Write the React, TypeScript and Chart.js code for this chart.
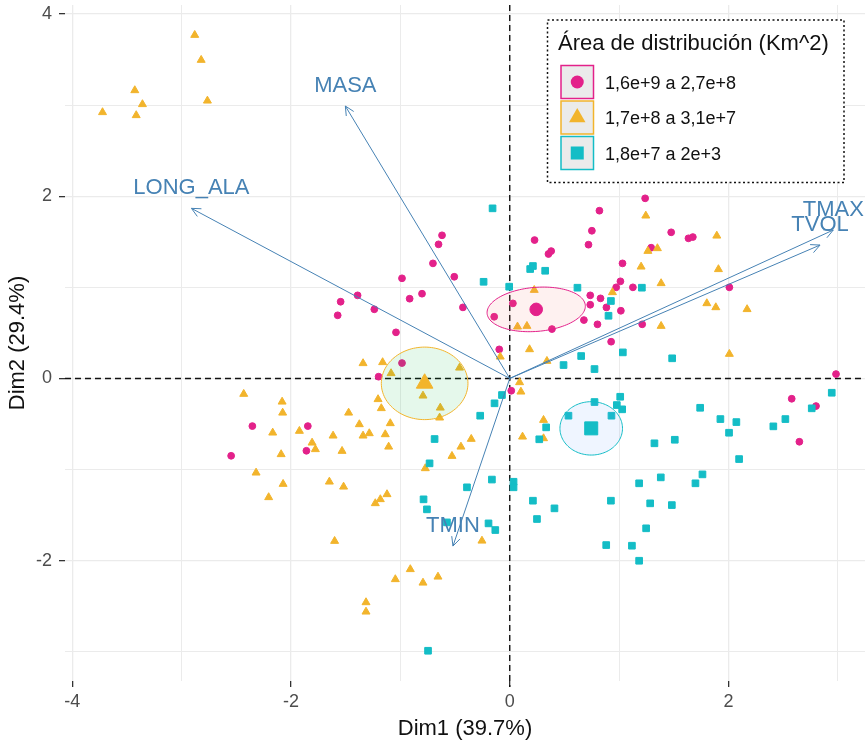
import React, { useEffect, useRef } from "react";
import { Chart, registerables } from "chart.js";

Chart.register(...registerables);

const FONT = "'Liberation Sans', Arial, Helvetica, sans-serif";

// ---------- data ----------
const groupNames = ["1,6e+9 a 2,7e+8", "1,7e+8 a 3,1e+7", "1,8e+7 a 2e+3"];
const groupStyles = ["circle", "triangle", "rect"];
const groupColors = ["#E3218A", "#F2B42C", "#14BDC6"];
const ellipseFills = ["rgba(248,118,109,0.1)", "rgba(0,186,56,0.1)", "rgba(97,156,255,0.1)"];
const legendTitle = "Área de distribución (Km^2)";

const magX = [-0.619, -0.651, 0.227, 1.238, 0.82, 0.751, 0.72, 0.354, 0.379, 1.476, 1.634, 1.674, 1.293, 1.031, 1.012, 0.973, 1.126, 0.736, 0.83, 0.736, 0.884, 1.016, 0.678, 0.802, 1.211, 0.927, 0.386, 0.029, -0.142, -0.428, -0.096, 2.008, 2.983, 2.578, 2.8, 2.648, -0.702, -0.507, -0.985, -0.915, -0.802, -1.391, -1.546, -1.573, -1.238, -1.04, -0.985, -1.199, 0.014, -2.353, -1.846, -1.859, -2.547];
const magY = [1.571, 1.472, 1.519, 1.977, 1.841, 1.621, 1.468, 1.366, 1.398, 1.604, 1.538, 1.552, 1.435, 1.263, 1.066, 1.0, 1.0, 0.912, 0.879, 0.809, 0.78, 0.743, 0.641, 0.594, 0.594, 0.403, 0.542, 0.824, 0.677, 0.78, 0.319, 1.0, 0.048, -0.223, -0.303, -0.695, 1.263, 1.116, 1.099, 0.875, 0.93, 0.912, 0.842, 0.693, 0.759, 0.506, 0.169, 0.019, -0.135, -0.523, -0.523, -0.794, -0.849];

const yelX = [-2.88, -2.821, -2.764, -3.428, -3.358, -3.415, -3.723, 1.244, 1.263, 1.35, 1.893, 1.201, 1.908, 1.384, 0.939, 0.224, 1.802, 1.884, 1.384, 0.071, 0.157, 0.181, -0.087, 0.34, 2.008, 2.17, 0.309, 0.309, -1.341, -1.162, -1.085, -0.459, -0.793, 0.09, 0.102, -1.204, -1.174, -0.635, -0.641, -1.473, -1.092, -1.375, -1.615, -1.341, -1.284, -1.138, -1.807, -1.777, -1.533, -1.107, -0.352, -0.446, -0.528, -0.772, 0.117, -1.649, -1.519, -2.432, -2.081, -2.076, -2.167, -1.923, -2.09, -2.319, -2.072, -2.204, -1.229, -1.183, -1.122, -1.601, -0.254, -0.909, -1.046, -0.793, -0.656, -1.314, -1.314];
const yelY = [3.769, 3.495, 3.048, 3.162, 3.009, 2.888, 2.921, 1.786, 1.398, 1.428, 1.566, 1.226, 1.198, 1.044, 0.945, 0.97, 0.824, 0.78, 0.575, 0.568, 0.575, 0.319, 0.238, 0.191, 0.268, 0.759, -0.457, -0.658, 0.166, 0.177, 0.056, 0.117, -0.19, -0.043, -0.146, -0.229, -0.328, -0.322, -0.431, -0.377, -0.493, -0.504, -0.629, -0.629, -0.603, -0.614, -0.706, -0.778, -0.797, -0.75, -0.665, -0.75, -0.852, -0.987, -0.64, -1.134, -1.189, -0.171, -0.256, -0.377, -0.596, -0.577, -0.833, -1.035, -1.159, -1.305, -1.371, -1.327, -1.272, -1.785, -1.782, -2.095, -2.205, -2.243, -2.177, -2.458, -2.561];

const cyaX = [-0.157, 0.187, 0.212, 0.324, -0.239, -0.005, 0.619, 1.208, 0.925, 0.903, 1.034, 0.653, 0.492, 0.775, 1.485, 1.01, 0.979, 1.028, 0.775, 0.537, 0.93, 0.333, 0.27, 1.741, 1.926, 2.072, 2.005, 2.41, 2.52, 2.761, 2.944, 1.323, 1.509, 2.097, 1.183, 1.381, 1.698, 1.762, 0.925, 0.409, 1.284, 1.482, 1.247, 0.882, 1.117, 1.183, -0.391, -0.163, 0.035, 0.035, -0.788, -0.757, -0.574, -0.194, -0.132, 0.212, 0.249, -0.747, -0.071, -0.139, -0.27, -0.687, -0.733];
const cyaY = [1.867, 1.201, 1.234, 1.182, 1.061, 1.007, 0.996, 0.996, 0.85, 0.688, 0.286, 0.246, 0.147, 0.103, 0.221, -0.201, -0.292, -0.339, -0.259, -0.409, -0.409, -0.537, -0.668, -0.322, -0.446, -0.479, -0.596, -0.526, -0.446, -0.328, -0.157, -0.712, -0.673, -0.885, -1.151, -1.086, -1.151, -1.053, -1.342, -1.426, -1.371, -1.39, -1.645, -1.829, -1.836, -2.001, -1.195, -1.11, -1.134, -1.195, -1.327, -1.437, -1.58, -1.591, -1.664, -1.342, -1.543, -2.989, -0.182, -0.273, -0.409, -0.665, -0.932];

// group means (also ellipse centres)
const meanX = [0.242, -0.778, 0.745];
const meanY = [0.758, -0.054, -0.548];
// ellipse semi-axis vectors (data units)
const ellAX = [0.449, 0.396, 0.286];
const ellAY = [0.044, 0.0, 0.0];
const ellBX = [0.016, 0.0, 0.0];
const ellBY = [-0.241, 0.398, 0.293];

// variable arrows
const varNames = ["LONG_ALA", "MASA", "TMAX", "TVOL", "TMIN"];
const varX = [-2.91, -1.503, 2.958, 2.837, -0.519];
const varY = [1.867, 2.99, 1.629, 1.464, -1.84];

const xTickLabels = [-4, -2, 0, 2];
const yTickLabels = [-2, 0, 2, 4];
const X_MIN = -4.066, X_MAX = 3.248, Y_MIN = -3.321, Y_MAX = 4.099;
const xTitle = "Dim1 (39.7%)";
const yTitle = "Dim2 (29.4%)";

// ---------- drawing helpers ----------
const ARROW_COL = "#4682B4";

function markerPath(ctx: CanvasRenderingContext2D, style: string, cx: number, cy: number, r: number) {
  ctx.beginPath();
  if (style === "circle") {
    ctx.arc(cx, cy, r, 0, Math.PI * 2);
  } else if (style === "triangle") {
    let a = 0;
    ctx.moveTo(cx + Math.sin(a) * r, cy - Math.cos(a) * r);
    a += (2 * Math.PI) / 3;
    ctx.lineTo(cx + Math.sin(a) * r, cy - Math.cos(a) * r);
    a += (2 * Math.PI) / 3;
    ctx.lineTo(cx + Math.sin(a) * r, cy - Math.cos(a) * r);
    ctx.closePath();
  } else {
    const s = r * Math.SQRT1_2;
    ctx.rect(cx - s, cy - s, 2 * s, 2 * s);
  }
}

const biplotPlugin = {
  id: "biplot",
  beforeDatasetsDraw(chart: any) {
    const { ctx, chartArea, scales } = chart;
    const x0 = scales.x.getPixelForValue(0);
    const y0 = scales.y.getPixelForValue(0);
    ctx.save();
    ctx.strokeStyle = "#111";
    ctx.lineWidth = 1.4;
    ctx.setLineDash([6, 4]);
    ctx.beginPath();
    ctx.moveTo(chartArea.left, y0);
    ctx.lineTo(chartArea.right, y0);
    ctx.moveTo(x0, chartArea.top);
    ctx.lineTo(x0, chartArea.bottom + 6);
    ctx.stroke();
    ctx.restore();
  },
  afterDatasetDraw(chart: any, args: any) {
    if (args.index !== 2) return;
    const { ctx, scales } = chart;
    ctx.save();
    for (let g = 0; g < 3; g++) {
      ctx.beginPath();
      const n = 120;
      for (let k = 0; k <= n; k++) {
        const t = (k / n) * Math.PI * 2;
        const vx = meanX[g] + ellAX[g] * Math.cos(t) + ellBX[g] * Math.sin(t);
        const vy = meanY[g] + ellAY[g] * Math.cos(t) + ellBY[g] * Math.sin(t);
        const px = scales.x.getPixelForValue(vx);
        const py = scales.y.getPixelForValue(vy);
        if (k === 0) ctx.moveTo(px, py);
        else ctx.lineTo(px, py);
      }
      ctx.closePath();
      ctx.fillStyle = ellipseFills[g];
      ctx.fill();
      ctx.strokeStyle = groupColors[g];
      ctx.lineWidth = 1;
      ctx.stroke();
    }
    ctx.restore();
  },
  afterDatasetsDraw(chart: any) {
    const { ctx, scales } = chart;
    const ox = scales.x.getPixelForValue(0);
    const oy = scales.y.getPixelForValue(0);
    ctx.save();
    ctx.strokeStyle = ARROW_COL;
    ctx.lineWidth = 1;
    for (let i = 0; i < varNames.length; i++) {
      const tx = scales.x.getPixelForValue(varX[i]);
      const ty = scales.y.getPixelForValue(varY[i]);
      const ang = Math.atan2(ty - oy, tx - ox);
      const L = 10, h = 0.45;
      ctx.beginPath();
      ctx.moveTo(tx - L * Math.cos(ang - h), ty - L * Math.sin(ang - h));
      ctx.lineTo(tx, ty);
      ctx.lineTo(tx - L * Math.cos(ang + h), ty - L * Math.sin(ang + h));
      ctx.stroke();
    }
    ctx.fillStyle = ARROW_COL;
    ctx.font = `22px ${FONT}`;
    ctx.textAlign = "center";
    ctx.textBaseline = "middle";
    for (let i = 0; i < varNames.length; i++) {
      const tx = scales.x.getPixelForValue(varX[i]);
      const ty = scales.y.getPixelForValue(varY[i]);
      ctx.fillText(varNames[i], tx, ty - 20);
    }
    ctx.restore();
  },
  afterDraw(chart: any) {
    const { ctx } = chart;
    const L = 547.5, T = 20, R = 844, B = 182.5;
    ctx.save();
    ctx.fillStyle = "#ffffff";
    ctx.fillRect(L, T, R - L, B - T);
    ctx.strokeStyle = "#111";
    ctx.lineWidth = 1.5;
    ctx.setLineDash([2, 2.5]);
    ctx.strokeRect(L, T, R - L, B - T);
    ctx.setLineDash([]);
    ctx.fillStyle = "#111";
    ctx.font = `22px ${FONT}`;
    ctx.textAlign = "left";
    ctx.textBaseline = "middle";
    ctx.fillText(legendTitle, 558, 44);
    const keyX = 561, keyW = 32.5, keyH = 33;
    const keyTops = [65.5, 101, 136.5];
    const markerR = [6.5, 9.5, 9.2];
    for (let g = 0; g < 3; g++) {
      const top = keyTops[g];
      ctx.fillStyle = "#ebebeb";
      ctx.fillRect(keyX, top, keyW, keyH);
      ctx.strokeStyle = groupColors[g];
      ctx.lineWidth = 1.5;
      ctx.strokeRect(keyX, top, keyW, keyH);
      ctx.fillStyle = groupColors[g];
      markerPath(ctx, groupStyles[g], keyX + keyW / 2, top + keyH / 2, markerR[g]);
      ctx.fill();
      ctx.fillStyle = "#111";
      ctx.font = `18px ${FONT}`;
      ctx.fillText(groupNames[g], 605, top + keyH / 2 + 2);
    }
    ctx.restore();
  },
};

export default function App() {
  const ref = useRef<HTMLCanvasElement | null>(null);
  useEffect(() => {
    document.body.style.margin = "0";
    if (!ref.current) return;
    const pts = (xs: number[], ys: number[]) => xs.map((x, i) => ({ x, y: ys[i] }));
    const smallR = [3.4, 4.6, 4.7];
    const bigR = [6.3, 9.6, 9.2];
    const groupX = [magX, yelX, cyaX];
    const groupY = [magY, yelY, cyaY];
    const datasets: any[] = [];
    for (let g = 0; g < 3; g++) {
      datasets.push({
        label: groupNames[g],
        data: pts(groupX[g], groupY[g]),
        pointStyle: groupStyles[g],
        pointRadius: smallR[g],
        backgroundColor: groupColors[g],
        borderColor: groupColors[g],
        borderWidth: 1,
        order: 30 - g,
      });
    }
    for (let g = 0; g < 3; g++) {
      datasets.push({
        label: groupNames[g] + " mean",
        data: [{ x: meanX[g], y: meanY[g] }],
        pointStyle: groupStyles[g],
        pointRadius: bigR[g],
        backgroundColor: groupColors[g],
        borderColor: groupColors[g],
        borderWidth: 1,
        order: 20 - g,
      });
    }
    for (let i = 0; i < varNames.length; i++) {
      datasets.push({
        label: varNames[i],
        data: [{ x: 0, y: 0 }, { x: varX[i], y: varY[i] }],
        showLine: true,
        pointRadius: 0,
        borderColor: ARROW_COL,
        borderWidth: 1,
        fill: false,
        order: 10 - i,
      });
    }
    const gridColor = (c: any) => (c.tick && Number.isInteger(c.tick.value) ? "#ebebeb" : "rgba(0,0,0,0)");
    const gridWidth = (c: any) => (c.tick && c.tick.value % 2 === 0 ? 1.3 : 1);
    const chart = new Chart(ref.current, {
      type: "scatter",
      data: { datasets },
      options: {
        responsive: false,
        animation: false,
        events: [],
        layout: { autoPadding: false, padding: { top: 5, left: 0, right: 0, bottom: 0 } },
        plugins: { legend: { display: false }, tooltip: { enabled: false } },
        scales: {
          x: {
            type: "linear",
            min: X_MIN,
            max: X_MAX,
            afterFit: (s: any) => {
              s.height = 61;
              s.paddingLeft = 0;
              s.paddingRight = 0;
            },
            border: { display: false },
            grid: {
              color: gridColor,
              lineWidth: gridWidth,
              tickLength: 6,
              tickColor: (c: any) => (c.tick && xTickLabels.includes(c.tick.value) ? "#333" : "rgba(0,0,0,0)"),
              tickWidth: 1.3,
            },
            ticks: {
              stepSize: 1,
              includeBounds: false,
              autoSkip: false,
              maxRotation: 0,
              padding: 4,
              color: "#4d4d4d",
              font: { family: FONT, size: 18 },
              callback: (v: any) => (xTickLabels.includes(Number(v)) ? String(v) : ""),
            },
            title: {
              display: true,
              text: xTitle,
              color: "#111",
              font: { family: FONT, size: 22 },
              padding: { top: 0, bottom: 0 },
            },
          },
          y: {
            type: "linear",
            min: Y_MIN,
            max: Y_MAX,
            afterFit: (s: any) => {
              s.width = 65;
              s.paddingTop = 0;
              s.paddingBottom = 0;
            },
            border: { display: false },
            grid: {
              color: gridColor,
              lineWidth: gridWidth,
              tickLength: 6,
              tickColor: (c: any) => (c.tick && yTickLabels.includes(c.tick.value) ? "#333" : "rgba(0,0,0,0)"),
              tickWidth: 1.3,
            },
            ticks: {
              stepSize: 1,
              includeBounds: false,
              autoSkip: false,
              padding: 7,
              color: "#4d4d4d",
              font: { family: FONT, size: 18 },
              callback: (v: any) => (yTickLabels.includes(Number(v)) ? String(v) : ""),
            },
            title: {
              display: true,
              text: yTitle,
              color: "#111",
              font: { family: FONT, size: 22 },
              padding: { top: 5, bottom: 0 },
            },
          },
        },
      },
      plugins: [biplotPlugin],
    } as any);
    return () => chart.destroy();
  }, []);
  return <canvas ref={ref} width={865} height={742} style={{ display: "block" }} />;
}
